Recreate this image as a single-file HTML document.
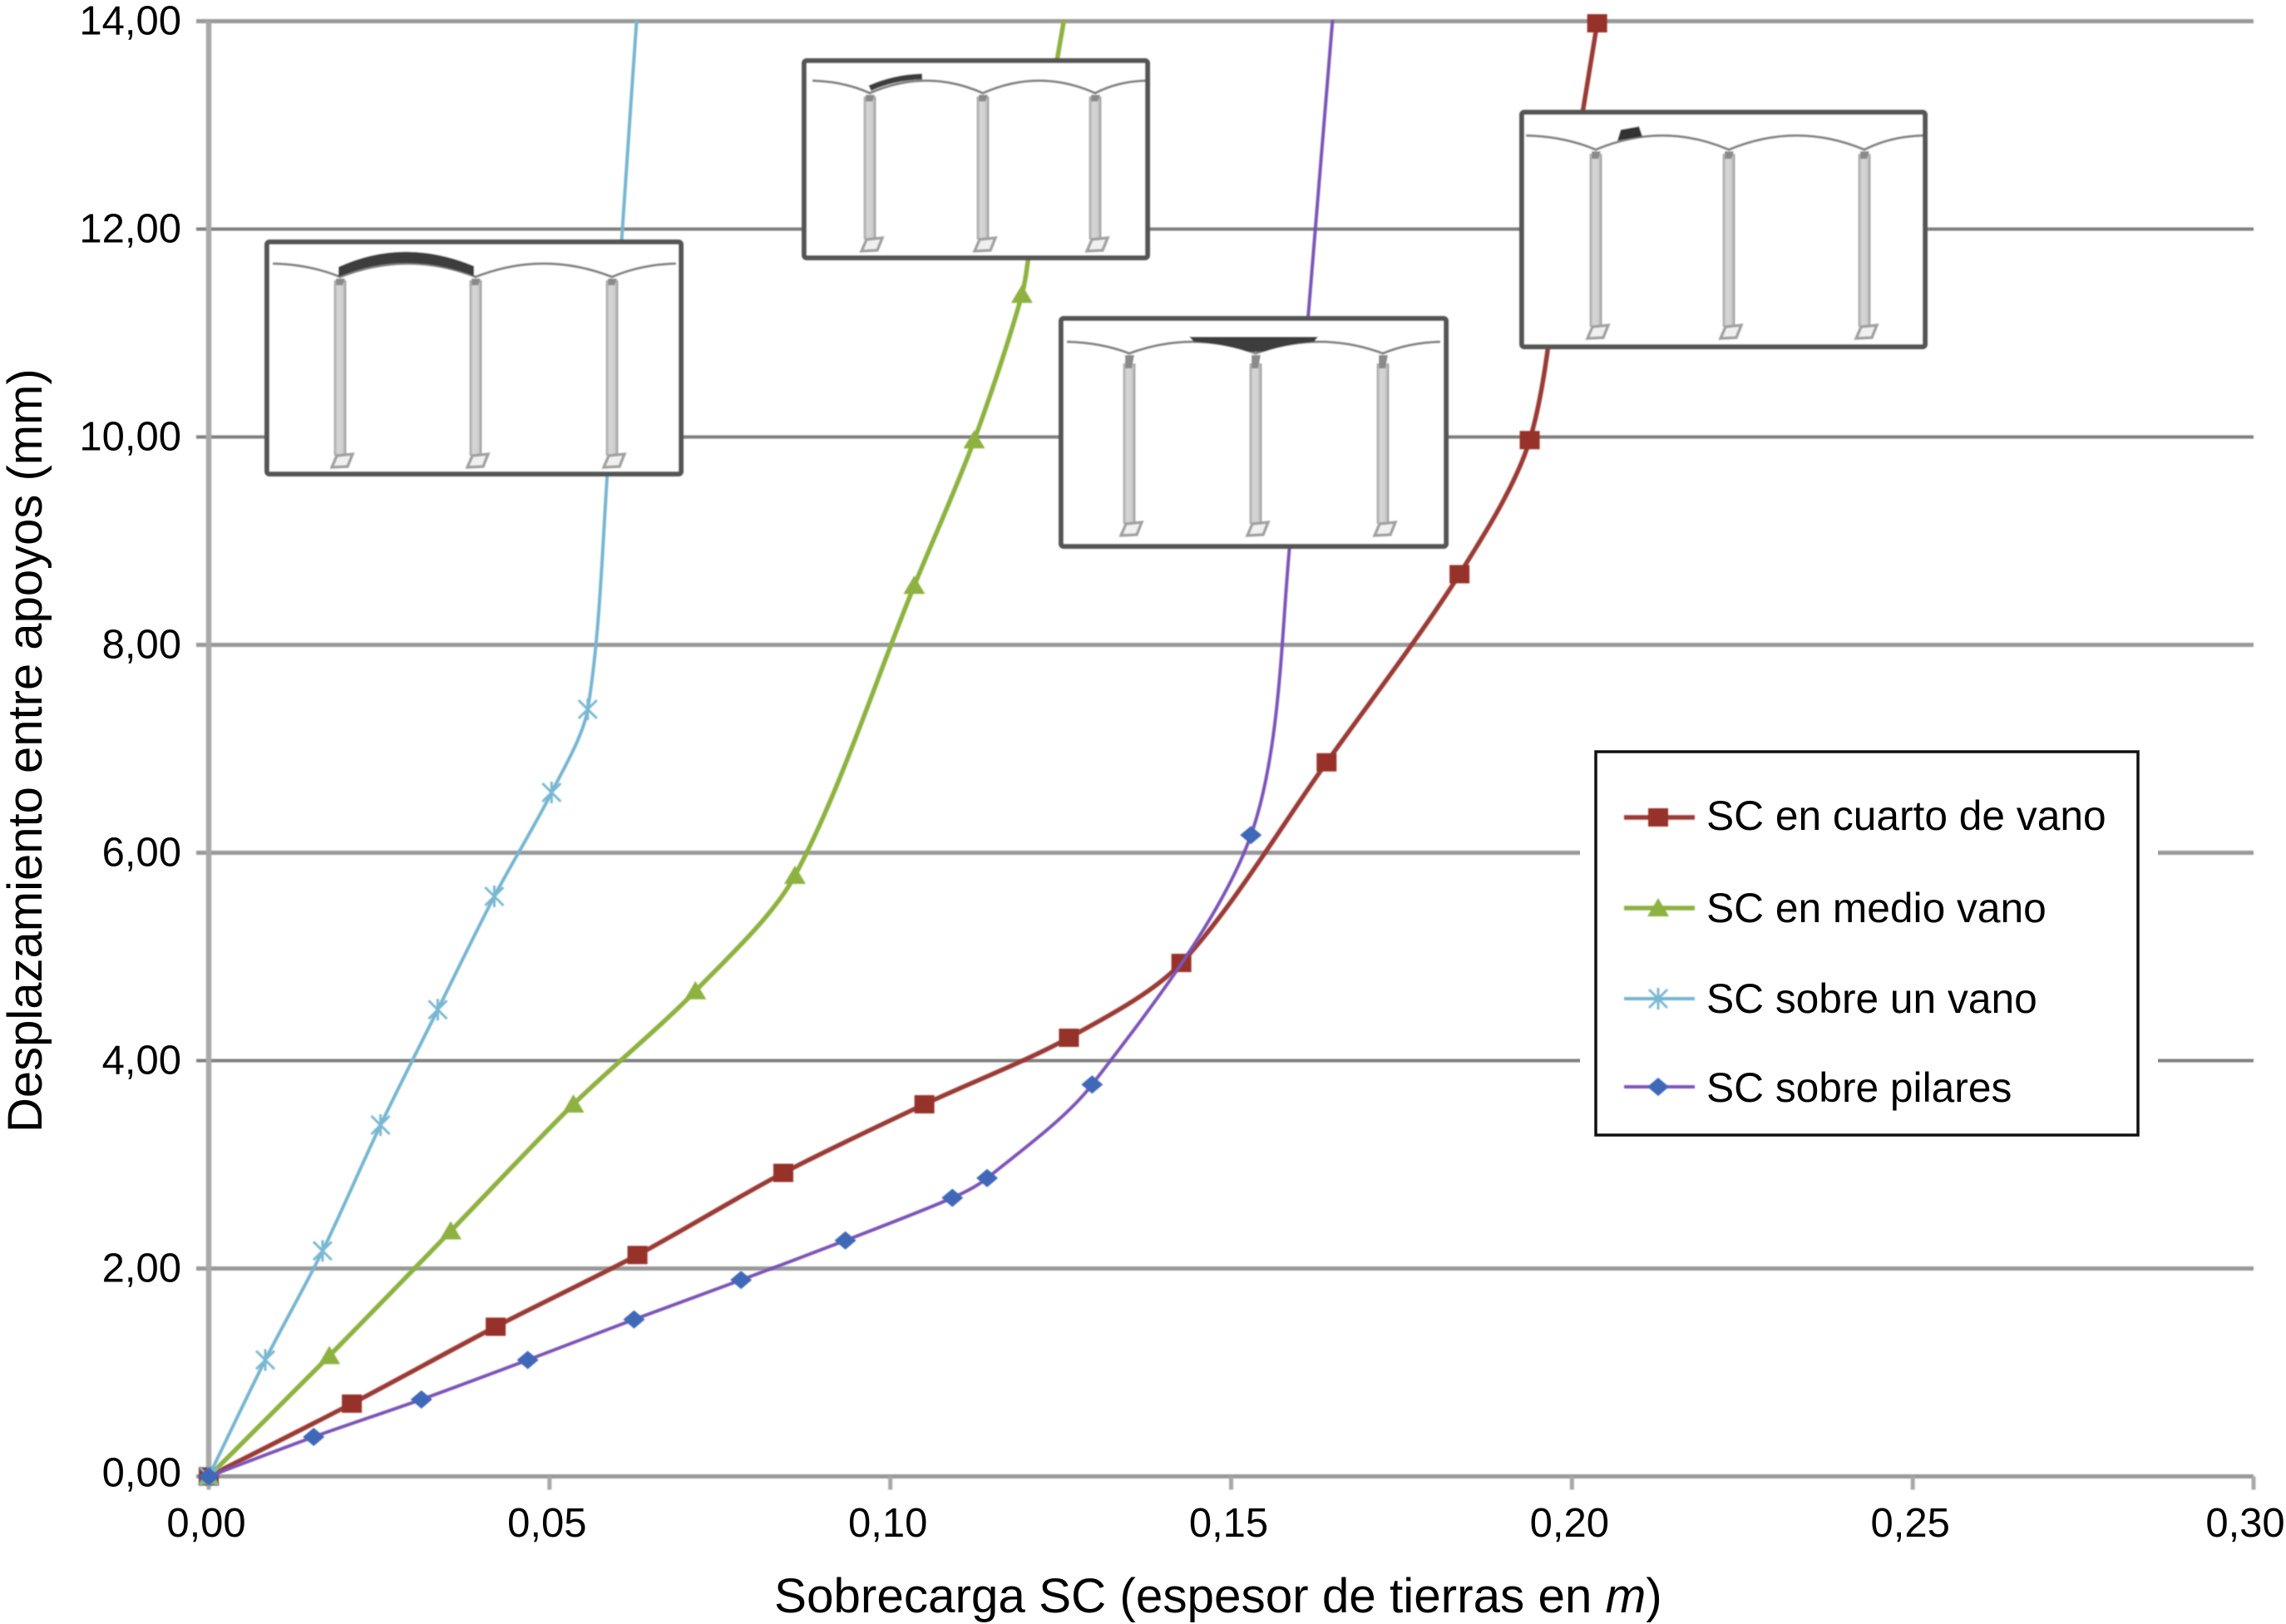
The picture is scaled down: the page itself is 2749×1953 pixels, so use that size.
<!DOCTYPE html>
<html lang="es">
<head>
<meta charset="utf-8">
<title>Desplazamiento entre apoyos frente a sobrecarga</title>
<style>
html,body{margin:0;padding:0;background:#fff;}
body{width:2749px;height:1953px;overflow:hidden;}
svg{display:block;}
text{font-family:"Liberation Sans",Arial,sans-serif;fill:#000;}
</style>
</head>
<body>
<svg id="chart" xmlns="http://www.w3.org/2000/svg" width="2749" height="1953" viewBox="0 0 2749 1953">
<defs>
<filter id="softer" filterUnits="userSpaceOnUse" x="0" y="0" width="2749" height="1953"><feGaussianBlur stdDeviation="0.9"/></filter>
<clipPath id="plot-clip"><rect x="200" y="24" width="2520" height="1790"/></clipPath>
<linearGradient id="pillar-fill" x1="0" x2="1" y1="0" y2="0">
<stop offset="0" stop-color="#a0a0a0"/><stop offset="0.3" stop-color="#d6d6d6"/><stop offset="0.7" stop-color="#cfcfcf"/><stop offset="1" stop-color="#969696"/>
</linearGradient>
</defs>
<rect x="0" y="0" width="2749" height="1953" fill="#ffffff"/>
<g id="grid-layer" filter="url(#softer)"></g>
<g id="series-layer"></g>
<g id="inset-layer" filter="url(#softer)"></g>
<g id="tick-layer"></g>
<g id="legend-layer"></g>
<text x="931" y="1939" font-size="58.4">Sobrecarga SC (espesor de tierras en <tspan font-style="italic">m</tspan>)</text>
<text transform="translate(50,1362) rotate(-90)" font-size="58">Desplazamiento entre apoyos (mm)</text>
</svg>
<script>
const xTicks = [0, 0.05, 0.10, 0.15, 0.20, 0.25, 0.30];
const yTicks = [0, 2, 4, 6, 8, 10, 12, 14];
const xTickLabels = ['0,00', '0,05', '0,10', '0,15', '0,20', '0,25', '0,30'];
const yTickLabels = ['0,00', '2,00', '4,00', '6,00', '8,00', '10,00', '12,00', '14,00'];
const seriesNames = ['SC en cuarto de vano', 'SC en medio vano', 'SC sobre un vano', 'SC sobre pilares'];

const cuartoX = [0, 0.0210, 0.0421, 0.0629, 0.0843, 0.1050, 0.1262, 0.1427, 0.1640, 0.1835, 0.1938, 0.1987, 0.2037];
const cuartoY = [0, 0.70, 1.44, 2.13, 2.92, 3.58, 4.22, 4.94, 6.87, 8.68, 9.97, 11.97, 13.98];
const medioX = [0, 0.0177, 0.0355, 0.0535, 0.0714, 0.0860, 0.1035, 0.1123, 0.1193, 0.1207, 0.1241, 0.1268];
const medioY = [0, 1.16, 2.36, 3.58, 4.67, 5.78, 8.57, 9.97, 11.37, 11.96, 13.48, 14.50];
const unVanoX = [0, 0.0083, 0.0167, 0.0252, 0.0336, 0.0419, 0.0503, 0.0556, 0.0586, 0.0604, 0.0633];
const unVanoY = [0, 1.12, 2.17, 3.38, 4.49, 5.58, 6.58, 7.38, 9.76, 11.72, 14.50];
const pilaresX = [0, 0.0154, 0.0312, 0.0468, 0.0624, 0.0781, 0.0934, 0.1091, 0.1142, 0.1296, 0.1529, 0.1589, 0.1611, 0.1655];
const pilaresY = [0, 0.38, 0.74, 1.12, 1.51, 1.89, 2.27, 2.68, 2.87, 3.77, 6.17, 9.17, 11.00, 14.50];

const NS = 'http://www.w3.org/2000/svg';
function X(v) { return 251 + v * (2710 - 251) / 0.30; }
function Y(v) { return 1775.5 - v * (1775.5 - 25.5) / 14; }

function mk(parent, tag, attrs) {
  const el = document.createElementNS(NS, tag);
  for (const k in attrs) el.setAttribute(k, attrs[k]);
  parent.appendChild(el);
  return el;
}

function unit(a, b) {
  const dx = b[0] - a[0], dy = b[1] - a[1], l = Math.hypot(dx, dy) || 1;
  return [dx / l, dy / l];
}

function smoothPath(pts) {
  let d = 'M' + pts[0][0].toFixed(1) + ' ' + pts[0][1].toFixed(1);
  for (let i = 0; i < pts.length - 1; i++) {
    const p0 = pts[Math.max(i - 1, 0)], p1 = pts[i], p2 = pts[i + 1], p3 = pts[Math.min(i + 2, pts.length - 1)];
    const len = Math.hypot(p2[0] - p1[0], p2[1] - p1[1]) * 0.3;
    const t1 = unit(p0, p2), t2 = unit(p1, p3);
    const c1x = p1[0] + t1[0] * len, c1y = p1[1] + t1[1] * len;
    const c2x = p2[0] - t2[0] * len, c2y = p2[1] - t2[1] * len;
    d += 'C' + c1x.toFixed(1) + ' ' + c1y.toFixed(1) + ' ' + c2x.toFixed(1) + ' ' + c2y.toFixed(1) + ' ' + p2[0].toFixed(1) + ' ' + p2[1].toFixed(1);
  }
  return d;
}

function drawMarker(parent, kind, cx, cy, color) {
  let el;
  if (kind === 'square') {
    el = mk(parent, 'rect', { x: cx - 12, y: cy - 11, width: 24, height: 22, fill: color });
  } else if (kind === 'triangle') {
    el = mk(parent, 'polygon', { points: (cx - 13) + ',' + (cy + 10) + ' ' + (cx + 13) + ',' + (cy + 10) + ' ' + cx + ',' + (cy - 12), fill: color });
  } else if (kind === 'star') {
    const r = 11;
    el = mk(parent, 'path', {
      d: 'M' + (cx - r) + ' ' + (cy - r) + 'L' + (cx + r) + ' ' + (cy + r) + 'M' + (cx + r) + ' ' + (cy - r) + 'L' + (cx - r) + ' ' + (cy + r) + 'M' + cx + ' ' + (cy - r - 2) + 'L' + cx + ' ' + (cy + r + 2),
      stroke: color, 'stroke-width': 3, fill: 'none'
    });
  } else {
    el = mk(parent, 'polygon', { points: (cx - 13) + ',' + cy + ' ' + cx + ',' + (cy - 11) + ' ' + (cx + 13) + ',' + cy + ' ' + cx + ',' + (cy + 11), fill: color });
  }
  
  
  return el;
}

/* gridlines and axes */
const gridLayer = document.getElementById('grid-layer');
yTicks.forEach(function (t) {
  const dark = t === 4 || t === 10 || t === 12;
  const line = mk(gridLayer, 'line', { x1: 236, x2: 2710, y1: Y(t), y2: Y(t), stroke: dark ? '#7e7e7e' : '#999999', 'stroke-width': dark ? 4 : 5 });
  
  
});
xTicks.forEach(function (t) {
  const tick = mk(gridLayer, 'line', { x1: X(t), x2: X(t), y1: Y(0), y2: Y(0) + 16, stroke: '#a8a8a8', 'stroke-width': 5 });
  
  
});
const yAxis = mk(gridLayer, 'line', { x1: X(0), x2: X(0), y1: Y(14), y2: Y(0) + 12, stroke: '#a8a8a8', 'stroke-width': 6.5 });



/* series */
const seriesLayer = document.getElementById('series-layer');
const seriesStyles = [
  { xs: cuartoX, ys: cuartoY, color: '#9b3a35', mark: '#96302b', kind: 'square', w: 5.5 },
  { xs: medioX, ys: medioY, color: '#8db23f', mark: '#8db23f', kind: 'triangle', w: 5.5 },
  { xs: unVanoX, ys: unVanoY, color: '#74b5d0', mark: '#7ab8d2', kind: 'star', w: 4 },
  { xs: pilaresX, ys: pilaresY, color: '#7b52b8', mark: '#3f68b8', kind: 'diamond', w: 4 }
];
seriesStyles.forEach(function (s, i) {
  const g = mk(seriesLayer, 'g', { filter: 'url(#softer)' });
  
  
  const pts = s.xs.map(function (v, j) { return [X(v), Y(s.ys[j])]; });
  const clipG = mk(g, 'g', { 'clip-path': 'url(#plot-clip)' });
  const line = mk(clipG, 'path', { d: smoothPath(pts), fill: 'none', stroke: s.color, 'stroke-width': s.w, 'stroke-linejoin': 'round' });
  
  
  pts.forEach(function (p) { drawMarker(g, s.kind, p[0], p[1], s.mark); });
});

/* structural insets */
const insetLayer = document.getElementById('inset-layer');
function drawInset(name, b, px, deckPeakY, valleyY, left, right, pTop, pBottom, hl) {
  const g = mk(insetLayer, 'g', {});
  
  
  mk(g, 'rect', { x: b[0], y: b[1], width: b[2] - b[0], height: b[3] - b[1], rx: 3, fill: '#fff', stroke: '#555', 'stroke-width': 6 });
  px.forEach(function (cx) {
    mk(g, 'rect', { x: cx - 7.5, y: pTop, width: 15, height: pBottom - pTop, fill: 'url(#pillar-fill)' });
    mk(g, 'polygon', { points: (cx - 5) + ',' + (valleyY + 2) + ' ' + (cx + 6) + ',' + (valleyY + 2) + ' ' + (cx + 3) + ',' + (pTop + 6) + ' ' + (cx - 5) + ',' + (pTop + 6), fill: '#8a8a8a' });
    mk(g, 'polygon', { points: (cx - 10) + ',' + (pBottom + 14) + ' ' + (cx - 4) + ',' + (pBottom) + ' ' + (cx + 15) + ',' + (pBottom - 2) + ' ' + (cx + 9) + ',' + (pBottom + 13), fill: '#f0f0f0', stroke: '#a0a0a0', 'stroke-width': 3.5 });
  });
  const span = px[1] - px[0];
  const d = 'M' + left + ' ' + deckPeakY
    + 'Q' + (left + (px[0] - left) * 0.55) + ' ' + (deckPeakY + 1) + ' ' + px[0] + ' ' + valleyY
    + 'Q' + (px[0] + span * 0.5) + ' ' + (deckPeakY * 2 - valleyY) + ' ' + px[1] + ' ' + valleyY
    + 'Q' + ((px[1] + px[2]) / 2) + ' ' + (deckPeakY * 2 - valleyY) + ' ' + px[2] + ' ' + valleyY
    + 'Q' + (right - (right - px[2]) * 0.55) + ' ' + (deckPeakY + 1) + ' ' + right + ' ' + deckPeakY;
  mk(g, 'path', { d: d, fill: 'none', stroke: '#808080', 'stroke-width': 3 });
  const h = mk(g, 'path', hl);
  
  
}
drawInset('inset-load-one-span', [321, 291, 819, 570], [409, 572, 736], 317, 333, 328, 813, 337, 548,
  { d: 'M407 321Q486 285 570 320L570 332Q486 300 407 333Z', fill: '#3c3c3c' });
drawInset('inset-load-quarter-left', [967, 73, 1380, 310], [1046, 1182, 1317], 97, 112, 977, 1377, 116, 288,
  { d: 'M1046 106Q1075 93 1109 92', fill: 'none', stroke: '#3c3c3c', 'stroke-width': 7 });
drawInset('inset-load-over-pillar', [1276, 383, 1739, 657], [1358, 1510, 1663], 411, 425, 1283, 1732, 437, 630,
  { d: 'M1430 405L1585 405L1580 411Q1545 414 1520 423L1500 423Q1475 414 1436 411Z', fill: '#3c3c3c' });
drawInset('inset-load-quarter-small', [1830, 135, 2315, 417], [1919, 2079, 2242], 163, 180, 1835, 2312, 185, 393,
  { d: 'M1945 169L1949 156L1971 152L1975 164Z', fill: '#333' });

/* tick labels */
const tickLayer = document.getElementById('tick-layer');
xTicks.forEach(function (t, i) {
  const el = mk(tickLayer, 'text', { x: Math.min(X(t) - 3, 2749 - 49), y: 1848, 'font-size': 49, 'text-anchor': 'middle' });
  el.textContent = xTickLabels[i];
  
  
});
yTicks.forEach(function (t, i) {
  const el = mk(tickLayer, 'text', { x: 218, y: Y(t) + (t === 0 ? 12 : 16), 'font-size': 49, 'text-anchor': 'end' });
  el.textContent = yTickLabels[i];
  
  
});

/* legend */
const legendLayer = document.getElementById('legend-layer');
const legendMask = mk(legendLayer, 'rect', { x: 1900, y: 890, width: 695, height: 490, fill: '#fff' });


const legendBox = mk(legendLayer, 'rect', { x: 1919, y: 904, width: 652, height: 461, fill: '#fff', stroke: '#111', 'stroke-width': 3.5 });


const legendKeyY = [983, 1092, 1201, 1307];
const legendTextY = [998, 1109, 1218, 1325];
seriesNames.forEach(function (name, i) {
  const s = seriesStyles[i];
  const g = mk(legendLayer, 'g', {});
  
  
  const keyG = mk(g, 'g', { filter: 'url(#softer)' });
  const key = mk(keyG, 'line', { x1: 1953, x2: 2038, y1: legendKeyY[i], y2: legendKeyY[i], stroke: s.color, 'stroke-width': s.w });
  
  
  drawMarker(keyG, s.kind, 1994, legendKeyY[i], s.mark);
  const label = mk(g, 'text', { x: 2052, y: legendTextY[i], 'font-size': 49.7 });
  label.textContent = name;
  
  
});
</script>
</body>
</html>
